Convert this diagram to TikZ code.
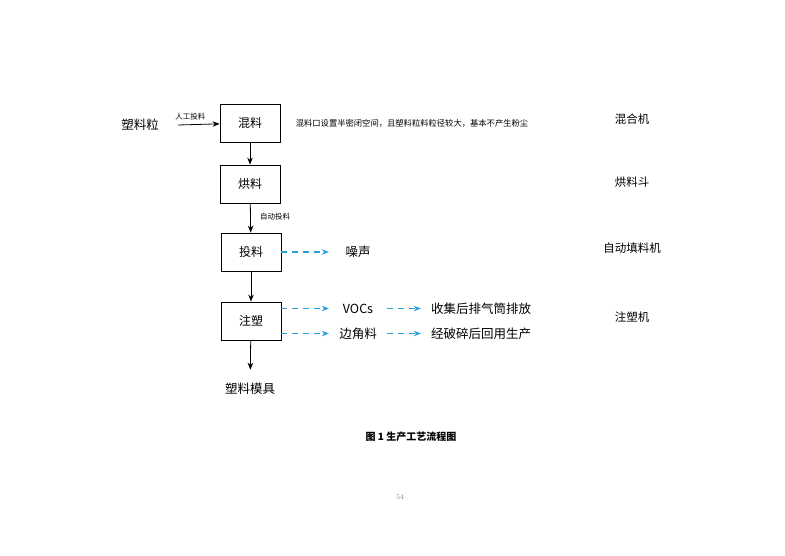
\documentclass[tikz,border=0pt]{standalone}
\usepackage{fontspec}
\newfontfamily\cjk{Noto Sans CJK SC}
\usetikzlibrary{positioning,arrows.meta}
\definecolor{flowblue}{RGB}{40,160,215}

\begin{document}
\begin{tikzpicture}[
		x=1pt,y=-1pt,
		>={Stealth[length=7pt,width=5.5pt]},
		process/.style={
			rectangle,
			draw,
			thick,
			minimum width=60pt,
			minimum height=38pt,
			font=\cjk\fontsize{12}{14}\selectfont
		},
		bigtext/.style={font=\cjk\fontsize{12.5}{14}\selectfont},
		smalltext/.style={font=\cjk\fontsize{7.5}{9}\selectfont},
		outcome/.style={bigtext, minimum width=58pt, inner sep=0pt},
		device/.style={font=\cjk\fontsize{11.5}{13}\selectfont},
		emission/.style={->, dash pattern=on 6pt off 5pt, flowblue, line width=1.1pt}
		]
		\useasboundingbox (0,0) rectangle (785,556);
		
		\node[process] (mix) at (250,123) {混料};
		\node[process] (dry) at (250,184) {烘料};
		\node[process] (feed) at (251,252) {投料};
		\node[process] (mold) at (251,321) {注塑};
		
		\node[bigtext] (pellet) at (140,125) {塑料粒};
		\node[bigtext] (product) at (250,389) {塑料模具};
		\coordinate (pelletout) at (178,125);
		
		\node[font=\cjk\fontsize{8.3}{10}\selectfont] (note) at (412,123) {混料口设置半密闭空间，且塑料粒料粒径较大，基本不产生粉尘};
		
		\node[outcome] (noise) at (358,252) {噪声};
		\node[outcome] (voc) at (358,308.5) {VOCs};
		\node[outcome] (scrap) at (358,333.5) {边角料};
		\node[bigtext, minimum width=120pt, inner sep=0pt] (vent) at (481,308.5) {收集后排气筒排放};
		\node[bigtext, minimum width=120pt, inner sep=0pt] (reuse) at (481,333.5) {经破碎后回用生产};
		
		\node[device] (mixer) at (632,119) {混合机};
		\node[device] (hopper) at (632,182) {烘料斗};
		\node[device] (filler) at (632,248) {自动填料机};
		\node[device] (press) at (632,317) {注塑机};
		
		\node[font=\cjk\bfseries\fontsize{10}{12}\selectfont] (caption) at (411,437) {图 1 生产工艺流程图};
		\node[font=\fontsize{7}{8}\selectfont, gray] (page) at (400,497) {54};
		
		\draw[->,thick] (pelletout) -- (mix) node[pos=0.3,above=1pt,smalltext]{人工投料};
		\draw[->,thick] (mix) -- (dry);
		\draw[->,thick] (dry) -- (feed) node[pos=0.45,right=6pt,smalltext]{自动投料};
		\draw[->,thick] (feed) -- (mold);
		\draw[->,thick,shorten >=10pt] (mold) -- (product);
		
		\draw[emission] (feed) -- (noise);
		\draw[emission] (mold.east |- voc) -- (voc);
		\draw[emission] (mold.east |- scrap) -- (scrap);
		\draw[emission] (voc) -- (vent);
		\draw[emission] (scrap) -- (reuse);
		\end{tikzpicture}
\end{document}
